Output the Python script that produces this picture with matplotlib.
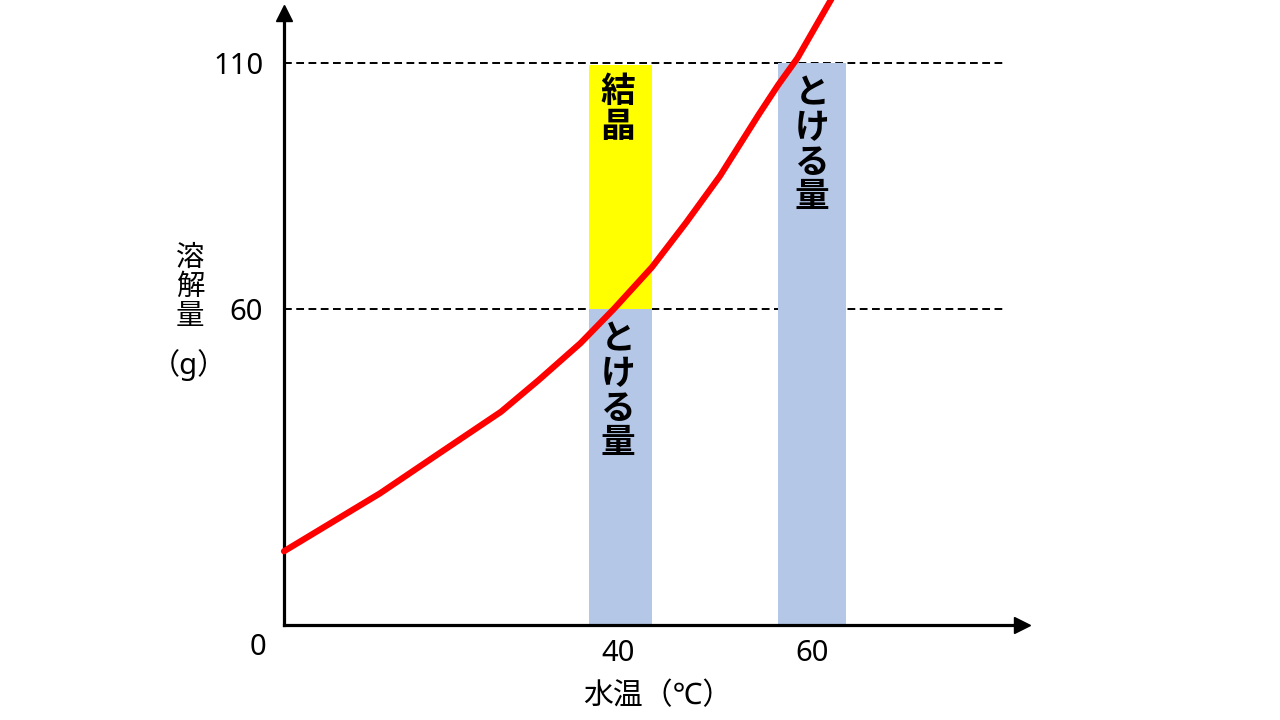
import numpy as np
import matplotlib
matplotlib.use("Agg")
import matplotlib.pyplot as plt

plt.rcParams['font.family'] = ['Noto Sans', 'Noto Sans CJK JP', 'DejaVu Sans']

# data
temp = [0, 11.5, 18.5, 26, 30.5, 35.5, 39.5, 43.5, 47, 50.5, 54.5, 56.5, 58.5, 62]
solub = [14, 25, 32.5, 40.5, 46.5, 53.5, 60, 68.5, 77.5, 87, 99.5, 105.5, 111, 123]
bar_temps = [40, 60]
dissolved = [60, 110]
crystal_top = 109.5
levels = [60, 110]
xticks = [40, 60]
yticks = [60, 110]

# the original spacing is not uniform: piecewise linear scales
xk = [-100, 0, 40, 60, 200]
xp = [-835, 0, 334, 528, 1886]
yk = [-100, 0, 60, 110, 300]
yp = [-527, 0, 316, 562, 1497]

def xf(v):
    return np.interp(v, xk, xp)

def xi(v):
    return np.interp(v, xp, xk)

def yf(v):
    return np.interp(v, yk, yp)

def yi(v):
    return np.interp(v, yp, yk)

fig = plt.figure(figsize=(12.8, 7.2), dpi=100)
ax = fig.add_axes([284/1280, 95/720, 738/1280, 612/720])
ax.set_xscale('function', functions=(xf, xi))
ax.set_yscale('function', functions=(yf, yi))
ax.set_xlim(0, xi(738))
ax.set_ylim(0, yi(612))

for s in ['top', 'right']:
    ax.spines[s].set_visible(False)
for s in ['left', 'bottom']:
    ax.spines[s].set_linewidth(2.3)
ax.plot(1, 0, '>k', transform=ax.transAxes, clip_on=False, markersize=11)
ax.plot(0, 1, '^k', transform=ax.transAxes, clip_on=False, markersize=11)

ax.hlines(levels, 0, xi(719), colors='black', lw=1.4,
          linestyles=(0, (4, 2.3)), zorder=1)

ax.bar(bar_temps, dissolved, width=7, color='#B4C7E7', zorder=2)
ax.bar(bar_temps[0], crystal_top - dissolved[0], bottom=dissolved[0],
       width=7, color='#FFFF00', zorder=2)

ax.plot(temp, solub, color='#FF0000', lw=4.5, solid_capstyle='round',
        solid_joinstyle='round', zorder=3, clip_on=False)

tk = dict(ha='center', va='center', fontsize=25, fontweight='bold',
          linespacing=1.03, zorder=4)
ax.text(40, 100.4, '結\n晶', **tk)
ax.text(40, 44.2, 'と\nけ\nる\n量', **tk)
ax.text(60, 93.1, 'と\nけ\nる\n量', **tk)

ax.set_xticks(xticks)
ax.set_yticks(yticks)
ax.tick_params(length=0, labelsize=21)
ax.tick_params(axis='y', pad=15)
ax.tick_params(axis='x', pad=10)
ax.annotate('0', xy=(0, 0), xytext=(-19, -16.5), textcoords='offset points',
            ha='center', va='center', fontsize=21)

fig.text(190/1280, 1 - 287/720, '溶\n解\n量', ha='center', va='center',
         fontsize=20.5, linespacing=1.0)
fig.text(189/1280, 1 - 365/720, '（g）', ha='center', va='center', fontsize=21)
fig.text(658/1280, 1 - 697/720, '水温（℃）', ha='center', va='center', fontsize=21.5)

fig.savefig('out.png', dpi=100)
